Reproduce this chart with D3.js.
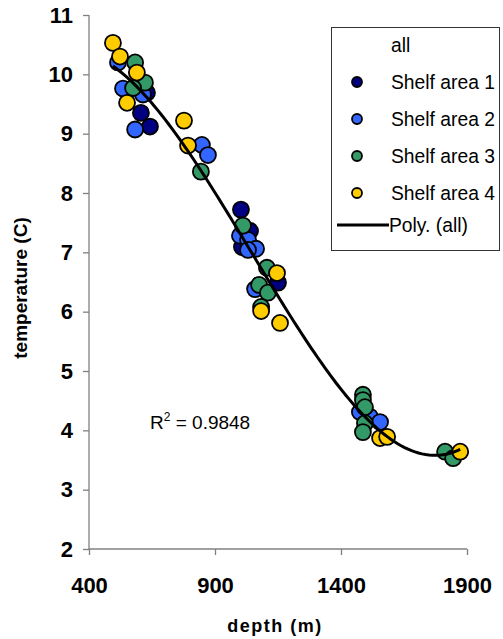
<!DOCTYPE html>
<html>
<head>
<meta charset="utf-8">
<script src="https://cdn.jsdelivr.net/npm/d3@7"></script>
<style>
  body { margin: 0; background: #fff; }
  text { font-family: "Liberation Sans", Arial, sans-serif; }
</style>
</head>
<body>
<div id="chart"></div>
<script>
// Dados (profundidade em m, temperatura em C)
var area1_depth = [606, 642, 630, 1003, 1039, 1007, 1150];
var area1_temp  = [9.35, 9.12, 9.69, 7.72, 7.36, 7.09, 6.49];

var area2_depth = [515, 535, 614, 583, 848, 872, 999, 1031, 1063, 1031, 1059, 1475, 1515, 1555];
var area2_temp  = [10.20, 9.76, 9.66, 9.07, 8.81, 8.64, 7.28, 7.21, 7.06, 7.04, 6.38, 4.31, 4.23, 4.14];

var area3_depth = [583, 622, 575, 844, 1011, 1106, 1075, 1110, 1083, 1487, 1487, 1495, 1495, 1487, 1813, 1845];
var area3_temp  = [10.20, 9.86, 9.77, 8.36, 7.45, 6.74, 6.45, 6.32, 6.08, 4.60, 4.51, 4.39, 4.12, 3.97, 3.64, 3.53];

var area4_depth = [495, 523, 590, 551, 777, 793, 1146, 1083, 1158, 1555, 1583, 1873];
var area4_temp  = [10.53, 10.30, 10.03, 9.52, 9.22, 8.80, 6.65, 6.01, 5.81, 3.87, 3.89, 3.64];

var seriesNames = ["Shelf area 1", "Shelf area 2", "Shelf area 3", "Shelf area 4"];
var seriesColors = ["#000080", "#3366ff", "#339966", "#ffcc00"];

var xTicks = [400, 900, 1400, 1900];
var yTicks = [2, 3, 4, 5, 6, 7, 8, 9, 10, 11];

var w = 503, h = 639;

var svg = d3.select("#chart")
  .append("svg")
  .attr("width", w)
  .attr("height", h);

// Escalas
var x = d3.scaleLinear().domain([400, 1900]).range([89, 467]);
var y = d3.scaleLinear().domain([2, 11]).range([549, 15]);

// Eixos
var xAxis = d3.axisBottom(x).tickValues(xTicks).tickSize(6).tickPadding(22).tickFormat(d3.format("d"));
var yAxis = d3.axisLeft(y).tickValues(yTicks).tickSize(6).tickPadding(10).tickFormat(d3.format("d"));

var gx = svg.append("g").attr("transform", "translate(0,549)").call(xAxis);
var gy = svg.append("g").attr("transform", "translate(89,0)").call(yAxis);

[gx, gy].forEach(function(g) {
  g.select(".domain").attr("stroke", "#808080").attr("stroke-width", 1.3);
  g.selectAll(".tick line").attr("stroke", "#808080").attr("stroke-width", 1.3);
  g.selectAll(".tick text")
    .attr("fill", "#000")
    .attr("font-size", "22px")
    .attr("font-weight", "bold")
    .attr("font-family", "Liberation Sans, Arial, sans-serif");
});
// remove os "ends" da linha do eixo (outer ticks)
gx.select(".domain").attr("d", "M89,0H467");
gy.select(".domain").attr("d", "M0,549V15");

// Monta os pontos
var groups = [
  {depth: area1_depth, temp: area1_temp},
  {depth: area2_depth, temp: area2_temp},
  {depth: area3_depth, temp: area3_temp},
  {depth: area4_depth, temp: area4_temp}
];

var allPts = [];
groups.forEach(function(g, i) {
  g.depth.forEach(function(d, j) {
    allPts.push({d: d, t: g.temp[j], s: i});
  });
});

// Pontos (desenhados por serie)
groups.forEach(function(g, i) {
  var pts = allPts.filter(function(p) { return p.s === i; });
  svg.append("g").selectAll("circle")
    .data(pts)
    .enter()
    .append("circle")
    .attr("cx", function(p) { return x(p.d); })
    .attr("cy", function(p) { return y(p.t); })
    .attr("r", 8)
    .attr("fill", seriesColors[i])
    .attr("stroke", "#000")
    .attr("stroke-width", 1.8);
});

// Linha de tendencia polinomial (grau 3) ajustada a todos os pontos
function polyfit(xs, ys, deg) {
  var n = deg + 1;
  var A = [], b = [];
  for (var r = 0; r < n; r++) {
    A.push(new Array(n).fill(0));
    b.push(0);
  }
  for (var k = 0; k < xs.length; k++) {
    for (var r = 0; r < n; r++) {
      b[r] += ys[k] * Math.pow(xs[k], r);
      for (var c = 0; c < n; c++) A[r][c] += Math.pow(xs[k], r + c);
    }
  }
  // eliminacao de Gauss
  for (var i = 0; i < n; i++) {
    var piv = i;
    for (var r = i + 1; r < n; r++) if (Math.abs(A[r][i]) > Math.abs(A[piv][i])) piv = r;
    var tmp = A[i]; A[i] = A[piv]; A[piv] = tmp;
    var tb = b[i]; b[i] = b[piv]; b[piv] = tb;
    for (var r = i + 1; r < n; r++) {
      var f = A[r][i] / A[i][i];
      for (var c = i; c < n; c++) A[r][c] -= f * A[i][c];
      b[r] -= f * b[i];
    }
  }
  var coef = new Array(n).fill(0);
  for (var i = n - 1; i >= 0; i--) {
    var s = b[i];
    for (var c = i + 1; c < n; c++) s -= A[i][c] * coef[c];
    coef[i] = s / A[i][i];
  }
  return coef;
}

// escala a profundidade para estabilidade numerica
var xs = allPts.map(function(p) { return (p.d - 1000) / 500; });
var ys = allPts.map(function(p) { return p.t; });
var coef = polyfit(xs, ys, 3);
var dMin = d3.min(allPts, function(p) { return p.d; });
var dMax = d3.max(allPts, function(p) { return p.d; });
var trend = d3.range(0, 101).map(function(i) {
  var d = dMin + (dMax - dMin) * i / 100;
  var u = (d - 1000) / 500;
  var t = coef[0] + coef[1] * u + coef[2] * u * u + coef[3] * u * u * u;
  return {d: d, t: t};
});

svg.append("path")
  .datum(trend)
  .attr("fill", "none")
  .attr("stroke", "#000")
  .attr("stroke-width", 3)
  .attr("d", d3.line()
    .x(function(p) { return x(p.d); })
    .y(function(p) { return y(p.t); }));

// R2
var r2 = svg.append("text")
  .attr("x", 150)
  .attr("y", 429)
  .attr("font-size", "19px");
r2.append("tspan").text("R");
r2.append("tspan").attr("font-size", "12px").attr("dy", -8).text("2");
r2.append("tspan").attr("dy", 8).text(" = 0.9848");

// Titulos dos eixos
svg.append("text")
  .attr("x", 275)
  .attr("y", 632)
  .attr("text-anchor", "middle")
  .attr("font-size", "18px")
  .attr("font-weight", "bold")
  .attr("letter-spacing", "1.5px")
  .text("depth (m)");

svg.append("text")
  .attr("transform", "translate(27,288) rotate(-90)")
  .attr("text-anchor", "middle")
  .attr("font-size", "19px")
  .attr("font-weight", "bold")
  .text("temperature (C)");

// Legenda
var leg = svg.append("g");
leg.append("rect")
  .attr("x", 331.5).attr("y", 27.5)
  .attr("width", 168).attr("height", 223)
  .attr("fill", "#fff")
  .attr("stroke", "#333")
  .attr("stroke-width", 1);

var rowY = [45, 82, 119, 156, 193, 225];
leg.append("text").attr("x", 391).attr("y", rowY[0] + 7).attr("font-size", "19.3px").text("all");
seriesNames.forEach(function(name, i) {
  leg.append("circle")
    .attr("cx", 357).attr("cy", rowY[i + 1])
    .attr("r", 5)
    .attr("fill", seriesColors[i])
    .attr("stroke", "#000")
    .attr("stroke-width", 1.8);
  leg.append("text")
    .attr("x", 391).attr("y", rowY[i + 1] + 7)
    .attr("font-size", "19.3px")
    .text(name);
});
leg.append("line")
  .attr("x1", 337).attr("x2", 389)
  .attr("y1", rowY[5]).attr("y2", rowY[5])
  .attr("stroke", "#000").attr("stroke-width", 3);
leg.append("text").attr("x", 389).attr("y", rowY[5] + 7).attr("font-size", "19.3px").text("Poly. (all)");
</script>
</body>
</html>
